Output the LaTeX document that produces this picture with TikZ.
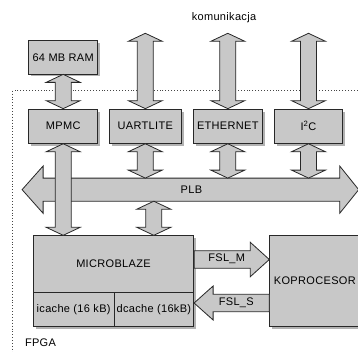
\documentclass[tikz,border=0pt]{standalone}
\usepackage{fontspec}
\setmainfont[LetterSpace=3]{Liberation Sans}
\usetikzlibrary{calc,shadows}
\definecolor{boxfill}{RGB}{200,200,200}
\definecolor{shadowc}{RGB}{178,178,178}
\definecolor{linec}{RGB}{40,40,40}
\definecolor{framec}{RGB}{70,70,70}
\tikzset{
  box/.style={draw=linec, line width=0.8pt, fill=boxfill, inner sep=0pt,
    general shadow={fill=shadowc, shadow xshift=2.5pt, shadow yshift=-2.5pt}},
  plain/.style={draw=linec, line width=0.8pt, fill=boxfill, inner sep=0pt},
  arr/.style={draw=linec, line width=0.8pt, fill=boxfill, line join=miter},
  lbl/.style={inner sep=0pt}
}
\newcommand\vda[3]{%
  \draw[arr] let \p1=(#1), \p2=(#2), \p3=(#3) in
    (\x1,\y2) -- (\x1+17pt,\y2-8pt) -- (\x1+8pt,\y2-8pt) -- (\x1+8pt,\y3+8pt)
    -- (\x1+17pt,\y3+8pt) -- (\x1,\y3) -- (\x1-17pt,\y3+8pt) -- (\x1-8pt,\y3+8pt)
    -- (\x1-8pt,\y2-8pt) -- (\x1-17pt,\y2-8pt) -- cycle;}
\begin{document}
\begin{tikzpicture}[x=1pt,y=-1pt,font=\fontsize{11}{13}\selectfont]
\useasboundingbox (0,0) rectangle (358,351);
\clip (0,0) rectangle (358,351);
% FPGA frame
\draw[framec, dotted, line width=0.9pt] (12.7,90.7) rectangle (375,375);
\node[lbl] (fpga) at (40.5,342.3) {FPGA};
\node[lbl] (kom) at (224,17.3) {komunikacja};
% boxes
\node[box, minimum width=69pt, minimum height=33.3pt] (ram) at (63.2,57.3) {64 MB RAM};
\node[box, minimum width=69pt, minimum height=34.3pt] (mpmc) at (63.2,126.2) {MPMC};
\node[box, minimum width=72pt, minimum height=34.3pt] (uart) at (145.3,126.2) {UARTLITE};
\node[box, minimum width=69pt, minimum height=34.3pt] (eth) at (227.8,126.2) {ETHERNET};
\node[box, minimum width=67.6pt, minimum height=34.3pt] (i2c) at (308.5,126.2) {I\textsuperscript{2}C};
\node[box, minimum width=160.4pt, minimum height=91pt] (mb) at (113.5,281.2) {};
\node[lbl] (mbl) at (113.5,264) {MICROBLAZE};
\node[plain, minimum width=80.7pt, minimum height=34.4pt] (ic) at (73.65,309.5) {icache (16 kB)};
\node[plain, minimum width=79.7pt, minimum height=34.4pt] (dc) at (153.85,309.5) {dcache (16kB)};
\node[box, minimum width=90.3pt, minimum height=91pt] (kop) at (314.85,281.2) {KOPROCESOR};
% PLB bus
\node[inner sep=0pt, minimum width=296.2pt, minimum height=22.7pt] (plb) at (191.4,189.65) {};
\draw[arr] let \p1=(plb.north west), \p2=(plb.south east) in
  (\x1,\y1) -- (\x2,\y1) -- (\x2,\y1+12.1pt) -- (\x2+19pt,{(\y1+\y2)/2})
  -- (\x2,\y2-12.1pt) -- (\x2,\y2) -- (\x1,\y2) -- (\x1,\y2-12.1pt)
  -- (\x1-21pt,{(\y1+\y2)/2}) -- (\x1,\y1+12.1pt) -- cycle;
\node[lbl] (plbl) at (plb) {PLB};
% communication ends
\coordinate (cu) at (145.3,33.3);
\coordinate (ce) at (227.8,33.3);
\coordinate (ci) at (308.5,33.3);
\coordinate (bx) at (153.8,201);
% vertical arrows
\vda{ram}{ram.south}{mpmc.north}
\vda{uart}{cu}{uart.north}
\vda{eth}{ce}{eth.north}
\vda{i2c}{ci}{i2c.north}
\vda{uart}{uart.south}{plb.north}
\vda{eth}{eth.south}{plb.north}
\vda{i2c}{i2c.south}{plb.north}
\vda{bx}{plb.south}{mb.north}
\vda{mpmc}{mpmc.south}{mb.north}
% FSL arrows
\coordinate (fmy) at (0,259.5);
\coordinate (fsy) at (0,303);
\draw[arr] let \p1=(mb.east |- fmy), \p2=(kop.west |- fmy) in
  (\x1,\y1+8.8pt) -- (\x2-19pt,\y1+8.8pt) -- (\x2-19pt,\y1+17.2pt) -- (\x2,\y1)
  -- (\x2-19pt,\y1-17.2pt) -- (\x2-19pt,\y1-8.8pt) -- (\x1,\y1-8.8pt) -- cycle;
\draw[arr] let \p1=(mb.east |- fsy), \p2=(kop.west |- fsy) in
  (\x2,\y1+8.7pt) -- (\x1+19pt,\y1+8.7pt) -- (\x1+19pt,\y1+17pt) -- (\x1,\y1)
  -- (\x1+19pt,\y1-17pt) -- (\x1+19pt,\y1-8.7pt) -- (\x2,\y1-8.7pt) -- cycle;
\node[lbl] (fslm) at (226.7,258.3) {FSL\_M};
\node[lbl] (fsls) at (236.3,302.7) {FSL\_S};
\end{tikzpicture}
\end{document}
